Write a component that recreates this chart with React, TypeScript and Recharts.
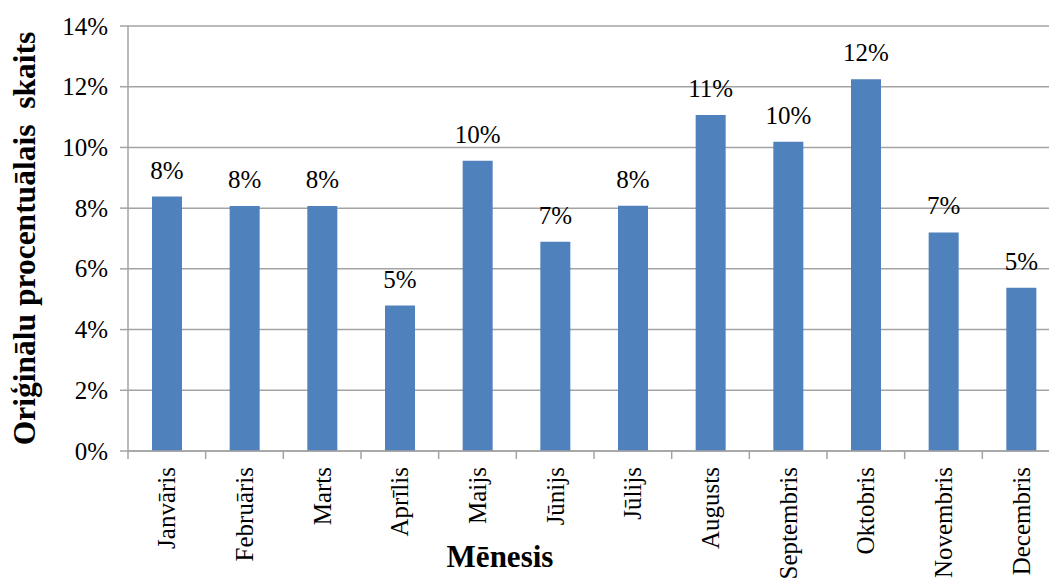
import React from "react";
import { BarChart, Bar, XAxis, YAxis, CartesianGrid, LabelList, Label } from "recharts";

// Monthly share of originals (percent)
const months = [
  "Janvāris", "Februāris", "Marts", "Aprīlis", "Maijs", "Jūnijs",
  "Jūlijs", "Augusts", "Septembris", "Oktobris", "Novembris", "Decembris",
];
const shares = [8.38, 8.07, 8.07, 4.79, 9.56, 6.89, 8.08, 11.07, 10.19, 12.25, 7.2, 5.38];
const yTicks = [0, 2, 4, 6, 8, 10, 12, 14];

const yTitle = "Oriģinālu procentuālais  skaits";
const xTitle = "Mēnesis";

const data = months.map((m, i) => ({ month: m, share: shares[i] }));

const FONT = "Liberation Serif";
const GRID = "#a3a3a3";
const BAR = "#4f81bd";

const CHART_W = 1070;
const CHART_H = 585;
const MARGIN = { top: 26, right: 10, left: 0, bottom: 0 };
const Y_AXIS_W = 128;
const X_AXIS_H = 134;
const PLOT_W = CHART_W - MARGIN.left - MARGIN.right - Y_AXIS_W;
const BAND = PLOT_W / months.length;
const X_TICK_GAP = 16;
const EDGE_TICK = 8;

// Category label rotated upright plus tick marks on the band boundaries
const MonthTick = (props: any) => {
  const { x, y, payload, index } = props;
  const axisY = y - X_TICK_GAP;
  const left = x - BAND / 2;
  const right = x + BAND / 2;
  return (
    <g>
      <line x1={left} y1={axisY} x2={left} y2={axisY + EDGE_TICK} stroke={GRID} strokeWidth={1.5} />
      {index === months.length - 1 && (
        <line x1={right} y1={axisY} x2={right} y2={axisY + EDGE_TICK} stroke={GRID} strokeWidth={1.5} />
      )}
      <text
        x={x}
        y={y}
        transform={`rotate(-90, ${x}, ${y})`}
        textAnchor="end"
        dominantBaseline="central"
        fontFamily={FONT}
        fontSize={25}
        fill="#000"
      >
        {payload.value}
      </text>
    </g>
  );
};

const PercentTick = (props: any) => {
  const { x, y, payload } = props;
  return (
    <text x={x} y={y} textAnchor="end" dominantBaseline="central" fontFamily={FONT} fontSize={25} fill="#000">
      {`${payload.value}%`}
    </text>
  );
};

const ValueLabel = (props: any) => {
  const { x, y, width, value } = props;
  return (
    <text x={x + width / 2} y={y - 18} textAnchor="middle" fontFamily={FONT} fontSize={25} fill="#000">
      {`${Math.round(Number(value))}%`}
    </text>
  );
};

export default function App() {
  return (
    <div style={{ position: "absolute", left: 0, top: 0, width: 1049, height: 585, overflow: "hidden", background: "#fff" }}>
      <BarChart width={CHART_W} height={CHART_H} data={data} margin={MARGIN}>
        <CartesianGrid vertical={false} stroke={GRID} strokeWidth={1.5} />
        <XAxis
          dataKey="month"
          height={X_AXIS_H}
          tickLine={false}
          tickSize={0}
          tickMargin={X_TICK_GAP}
          interval={0}
          axisLine={{ stroke: GRID, strokeWidth: 1.5 }}
          tick={<MonthTick />}
        >
          <Label
            content={() => (
              <text x={500} y={567} textAnchor="middle" fontFamily={FONT} fontSize={31} fontWeight="bold" fill="#000">
                {xTitle}
              </text>
            )}
          />
        </XAxis>
        <YAxis
          width={Y_AXIS_W}
          domain={[0, 14]}
          ticks={yTicks}
          interval={0}
          tickSize={8}
          tickMargin={12}
          axisLine={{ stroke: GRID, strokeWidth: 1.5 }}
          tickLine={{ stroke: GRID, strokeWidth: 1.5 }}
          tick={<PercentTick />}
        >
          <Label
            content={(p: any) => {
              const vb = p.viewBox || {};
              const cy = (vb.y ?? 26) + (vb.height ?? 425) / 2;
              return (
                <text
                  x={24}
                  y={cy}
                  transform={`rotate(-90, 24, ${cy})`}
                  textAnchor="middle"
                  dominantBaseline="central"
                  fontFamily={FONT}
                  fontSize={31.5}
                  fontWeight="bold"
                  fill="#000"
                  style={{ whiteSpace: "pre" }}
                >
                  {yTitle}
                </text>
              );
            }}
          />
        </YAxis>
        <Bar dataKey="share" fill={BAR} barSize={30} isAnimationActive={false}>
          <LabelList dataKey="share" content={<ValueLabel />} />
        </Bar>
      </BarChart>
    </div>
  );
}
